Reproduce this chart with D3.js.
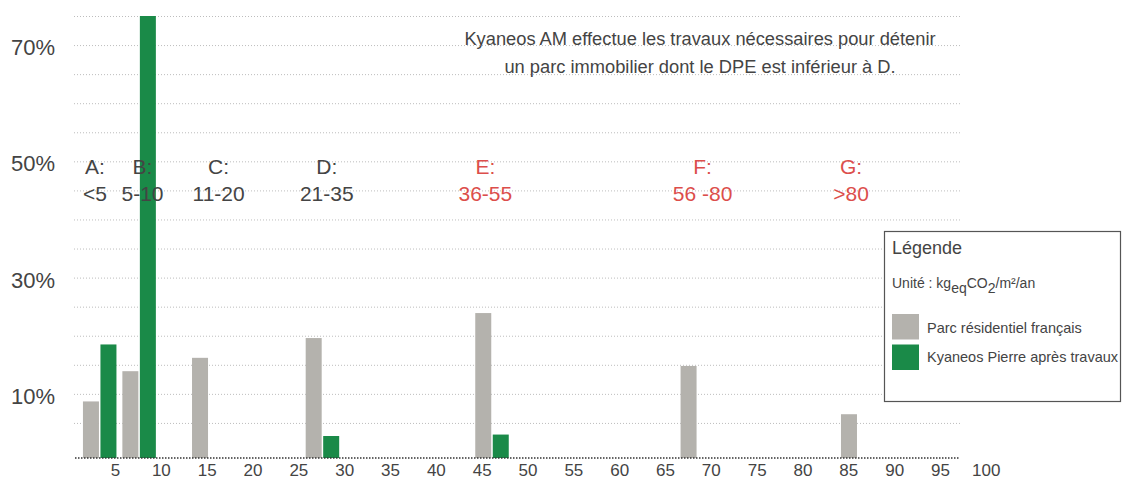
<!DOCTYPE html>
<html><head><meta charset="utf-8">
<script src="https://cdn.jsdelivr.net/npm/d3@7"></script>
<style>
body{margin:0;background:#fff}
svg{display:block}
text{font-family:"Liberation Sans",Arial,Helvetica,sans-serif}
</style>
</head><body>
<svg id="c" width="1123" height="480"></svg>
<script>
// ---- data ----
const categories = ["A", "B", "C", "D", "E", "F", "G"];
const classRanges = ["<5", "5-10", "11-20", "21-35", "36-55", "56 -80", ">80"];
const classLabelPos = [2.8, 8.0, 16.3, 28.1, 45.4, 69.1, 85.3];   // kgeqCO2 position of class labels
const barPos = [1.5, 5.8, 13.4, 25.8, 44.3, 66.7, 84.2];          // kgeqCO2 position of each bar pair
const seriesNames = ["Parc résidentiel français", "Kyaneos Pierre après travaux"];
const parcResidentiel = [8.7, 13.9, 16.2, 19.6, 23.9, 14.8, 6.5]; // %
const kyaneosApres = [18.5, 75, null, 2.75, 3.0, null, null];     // %
const xTicks = d3.range(5, 101, 5);
const yTickLabels = [10, 30, 50, 70];
const gridValues = d3.range(5, 76, 5);
const noteLines = ["Kyaneos AM effectue les travaux nécessaires pour détenir",
                   "un parc immobilier dont le DPE est inférieur à D."];

// ---- style ----
const GRAY = "#b4b2ad", GREEN = "#1a8a48", RED = "#dc4e4b", TXT = "#444";

const svg = d3.select("#c");
const x = d3.scaleLinear().domain([0, 100]).range([69.2, 985.8]);
const y = d3.scaleLinear().domain([0, 75]).range([452, 16]);
const baseY = y(0) + 6;
const gridX0 = 74, gridX1 = 960;

// gridlines
svg.append("g").selectAll("line").data(gridValues).join("line")
  .attr("x1", gridX0).attr("x2", gridX1)
  .attr("y1", d => y(d) + 0.5).attr("y2", d => y(d) + 0.5)
  .attr("stroke", "#bdbdbd").attr("stroke-width", 1).attr("stroke-dasharray", "1,2");

// y labels
const yAxis = svg.append("g").attr("transform", "translate(55,2.5)")
  .call(d3.axisLeft(y).tickValues(yTickLabels).tickFormat(d => d + "%").tickSize(0).tickPadding(0));
yAxis.select(".domain").remove();
yAxis.selectAll("text").attr("font-size", 22).attr("fill", TXT)
  .style("font-family", '"Liberation Sans",Arial,sans-serif');

// bars
const barW = 16, gap = 1.5;
svg.append("g").selectAll("rect").data(parcResidentiel).join("rect")
  .attr("x", (d, i) => x(barPos[i]))
  .attr("y", d => y(d))
  .attr("width", barW)
  .attr("height", d => baseY - y(d))
  .attr("fill", GRAY);
svg.append("g").selectAll("rect").data(kyaneosApres.map((v, i) => ({v, i})).filter(d => d.v != null)).join("rect")
  .attr("x", d => x(barPos[d.i]) + barW + gap)
  .attr("y", d => y(d.v))
  .attr("width", barW)
  .attr("height", d => baseY - y(d.v))
  .attr("fill", GREEN);

// baseline + x axis
svg.append("line").attr("x1", 75).attr("x2", gridX1).attr("y1", baseY).attr("y2", baseY)
  .attr("stroke", "#333").attr("stroke-width", 1.6).attr("stroke-dasharray", "1.5,1.5");
const xAxis = svg.append("g").attr("transform", `translate(0,${baseY})`)
  .call(d3.axisBottom(x).tickValues(xTicks).tickSize(0).tickPadding(6));
xAxis.select(".domain").remove();
xAxis.selectAll("text").attr("font-size", 17).attr("fill", TXT)
  .style("font-family", '"Liberation Sans",Arial,sans-serif');

// class labels
const cl = svg.append("g");
categories.forEach((c, i) => {
  const col = i >= 4 ? RED : TXT;
  cl.append("text").attr("x", x(classLabelPos[i])).attr("y", 174).attr("text-anchor", "middle")
    .attr("font-size", 21).attr("fill", col).text(c + ":");
  cl.append("text").attr("x", x(classLabelPos[i])).attr("y", 201).attr("text-anchor", "middle")
    .attr("font-size", 21).attr("fill", col).text(classRanges[i]);
});

// note
svg.append("g").selectAll("text").data(noteLines).join("text")
  .attr("x", 700).attr("y", (d, i) => 44.5 + i * 28.5)
  .attr("text-anchor", "middle").attr("font-size", 18.3).attr("fill", TXT).text(d => d);

// legend
const lg = svg.append("g");
lg.append("rect").attr("x", 884.5).attr("y", 231.5).attr("width", 236).attr("height", 170)
  .attr("fill", "#fff").attr("stroke", "#555").attr("stroke-width", 1.2);
lg.append("text").attr("x", 892).attr("y", 254).attr("font-size", 18).attr("fill", TXT).text("Légende");
const u = lg.append("text").attr("x", 892).attr("y", 288).attr("font-size", 14).attr("fill", TXT);
u.append("tspan").text("Unité : kg");
u.append("tspan").attr("dy", 5).text("eq");
u.append("tspan").attr("dy", -5).text("CO");
u.append("tspan").attr("dy", 5).text("2");
u.append("tspan").attr("dy", -5).text("/m²/an");
const sw = [GRAY, GREEN];
seriesNames.forEach((n, i) => {
  lg.append("rect").attr("x", 892).attr("y", 314 + i * 30.5).attr("width", 27).attr("height", 25.5).attr("fill", sw[i]);
  lg.append("text").attr("x", 927).attr("y", 333 + i * 29).attr("font-size", 14.5).attr("fill", TXT).text(n);
});
</script>
</body></html>
